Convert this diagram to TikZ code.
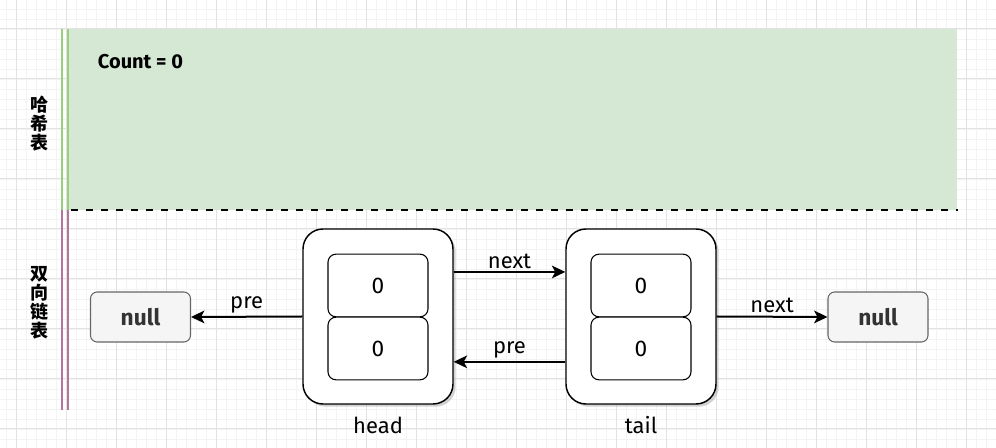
\documentclass[tikz,border=0pt]{standalone}
\usepackage{fontspec}
\setmainfont{Fira Sans}
\newfontfamily\cjkfont{Noto Sans CJK SC}
\usetikzlibrary{arrows.meta,shadows}

\definecolor{gridmajor}{HTML}{E2E2E2}
\definecolor{gridminor}{HTML}{F3F3F3}
\definecolor{lanegreen}{HTML}{97D077}
\definecolor{lanepink}{HTML}{B5739D}
\definecolor{hashfill}{HTML}{D5E8D4}
\definecolor{nullfill}{HTML}{F5F5F5}
\definecolor{nulldraw}{HTML}{666666}
\definecolor{nulltext}{HTML}{333333}

\begin{document}
\begin{tikzpicture}
                \tikzset{x=0.75pt, y=-0.75pt}
                \tikzstyle{node}=[rectangle, rounded corners=15pt, draw, line width=1.1pt, fill=white,
                                  minimum width=112.5pt, minimum height=131.25pt,
                                  drop shadow={shadow xshift=2pt, shadow yshift=-2pt, fill=black!35}]
                \tikzstyle{field}=[rectangle, rounded corners=6pt, draw, line width=0.8pt, fill=white,
                                   minimum width=75pt, minimum height=47pt, font=\fontsize{17}{20}\selectfont]
                \tikzstyle{nullbox}=[rectangle, rounded corners=5pt, draw=nulldraw, line width=0.8pt,
                                     fill=nullfill, text=nulltext, minimum width=75pt, minimum height=37.5pt,
                                     font=\fontsize{17}{20}\selectfont\bfseries]
                \tikzstyle{lane}=[font=\fontsize{13.5}{14.25}\selectfont\cjkfont\bfseries, align=center, inner sep=0pt]
                \tikzstyle{ptr}=[-{Stealth[length=10pt, width=9.5pt, inset=2.5pt]}, line width=1.5pt]
                \tikzstyle{lbl}=[font=\fontsize{16.5}{19}\selectfont, inner sep=2pt]

                \useasboundingbox (0,0) rectangle (996,448);

                % grid
                \foreach \x in {6,16,...,996} \draw[gridminor, line width=0.6pt] (\x,0) -- (\x,448);
                \foreach \y in {9,19,...,448} \draw[gridminor, line width=0.6pt] (0,\y) -- (996,\y);
                \foreach \x in {16,66,...,996} \draw[gridmajor, line width=0.75pt] (\x,0) -- (\x,448);
                \foreach \y in {29,79,...,448} \draw[gridmajor, line width=0.75pt] (0,\y) -- (996,\y);

                % lanes
                \fill[hashfill] (68,29) rectangle (957,210);
                \draw[lanegreen, line width=1.5pt] (62,29) -- (62,210) (68,29) -- (68,210);
                \draw[lanepink, line width=1.5pt] (62,210) -- (62,410) (68,210) -- (68,410);
                \draw[line width=1.5pt, dash pattern=on 5.25pt off 6pt] (71,210) -- (958,210);

                \draw (40.0, 124.0)  node[lane]      (hash)     {哈\\希\\表};
                \draw (40.0, 303.0)  node[lane]      (list)     {双\\向\\链\\表};
                \draw (140.5, 62.0)  node[font=\fontsize{15}{18}\selectfont\bfseries] (count) {Count = 0};

                \draw (378.0, 316.5) node[node]      (head)     {};
                \draw (378.0, 285.5) node[field]     (headnext) {0};
                \draw (378.0, 348.5) node[field]     (headpre)  {0};
                \draw (378.0, 425.0) node[lbl]       (headname) {head};

                \draw (641.0, 316.5) node[node]      (tail)     {};
                \draw (641.0, 285.5) node[field]     (tailnext) {0};
                \draw (641.0, 348.5) node[field]     (tailpre)  {0};
                \draw (641.0, 425.0) node[lbl]       (tailname) {tail};

                \draw (140.5, 317.0) node[nullbox]   (nullL)    {null};
                \draw (878.0, 317.0) node[nullbox]   (nullR)    {null};

                \draw [ptr] ([yshift=33.4pt]head.east) -- node[lbl, above] {next} ([yshift=33.4pt]tail.west);
                \draw [ptr] ([yshift=-34pt]tail.west)  -- node[lbl, above] {pre}  ([yshift=-34pt]head.east);
                \draw [ptr] (head.west)  -- node[lbl, above] {pre}  (nullL.east);
                \draw [ptr] (tail.east)  -- node[lbl, above] {next} (nullR.west);
            \end{tikzpicture}
\end{document}
